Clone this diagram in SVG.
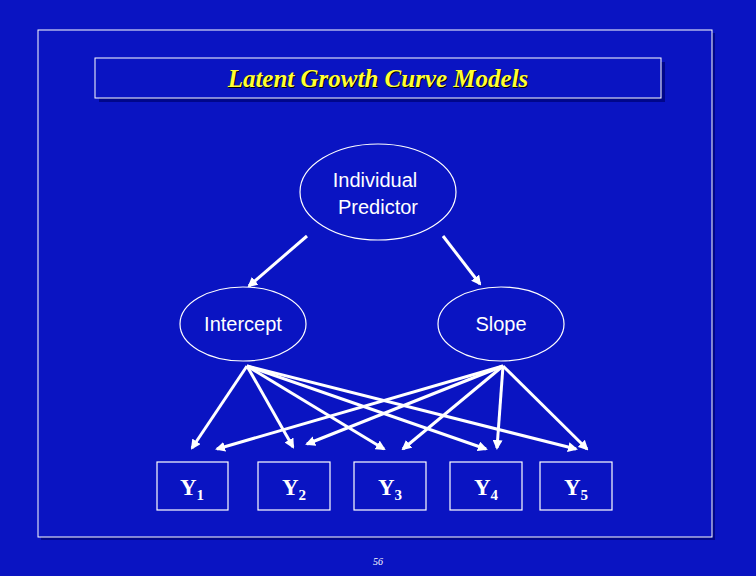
<svg xmlns="http://www.w3.org/2000/svg" width="756" height="576" viewBox="0 0 756 576">
<defs>
<marker id="ah" markerWidth="10" markerHeight="10" refX="8" refY="5" orient="auto" markerUnits="userSpaceOnUse"><path d="M0,0 L10,5 L0,10 Z" fill="#fff"/></marker>
<style>
.n{fill:#0A14C2;stroke:#fff;stroke-width:1.2}
.t{font-family:"Liberation Sans",sans-serif;font-size:20px;fill:#fff;text-anchor:middle}
.y{font-family:"Liberation Serif",serif;font-size:23px;font-weight:bold;fill:#fff;text-anchor:middle}
.c line{stroke:#fff;stroke-width:3;marker-end:url(#ah)}
</style>
</defs>
<rect width="756" height="576" fill="#0A14C2"/>
<rect x="41" y="33" width="674" height="507" fill="#00068a"/>
<rect x="38" y="30" width="674" height="507" fill="#0A14C2" stroke="#fff"/>
<g id="title">
<rect x="99" y="62" width="566" height="40" fill="#00068a"/>
<rect x="95" y="58" width="566" height="40" fill="#0A14C2" stroke="#fff"/>
<text x="379" y="88" font-family="Liberation Serif,serif" font-size="25" font-style="italic" font-weight="bold" fill="#000" text-anchor="middle">Latent Growth Curve Models</text>
<text x="378" y="87" font-family="Liberation Serif,serif" font-size="25" font-style="italic" font-weight="bold" fill="#FFFF33" text-anchor="middle">Latent Growth Curve Models</text>
</g>
<g id="predictor"><ellipse class="n" cx="378" cy="192" rx="78" ry="48"/><text class="t" x="375" y="187">Individual</text><text class="t" x="378" y="214">Predictor</text></g>
<g id="intercept"><ellipse class="n" cx="243" cy="324" rx="63" ry="37"/><text class="t" x="243" y="331">Intercept</text></g>
<g id="slope"><ellipse class="n" cx="501" cy="324" rx="63" ry="37"/><text class="t" x="501" y="331">Slope</text></g>
<g id="y1"><rect class="n" x="157" y="462" width="71" height="48"/><text class="y" x="192" y="495">Y<tspan font-size="15" dy="5">1</tspan></text></g>
<g id="y2"><rect class="n" x="258" y="462" width="72" height="48"/><text class="y" x="294" y="495">Y<tspan font-size="15" dy="5">2</tspan></text></g>
<g id="y3"><rect class="n" x="354" y="462" width="72" height="48"/><text class="y" x="390" y="495">Y<tspan font-size="15" dy="5">3</tspan></text></g>
<g id="y4"><rect class="n" x="450" y="462" width="72" height="48"/><text class="y" x="486" y="495">Y<tspan font-size="15" dy="5">4</tspan></text></g>
<g id="y5"><rect class="n" x="540" y="462" width="72" height="48"/><text class="y" x="576" y="495">Y<tspan font-size="15" dy="5">5</tspan></text></g>
<g class="c" id="connectors">
<line x1="307" y1="236" x2="249" y2="286"/>
<line x1="443" y1="236" x2="480" y2="284"/>
<line x1="247" y1="366" x2="192" y2="448"/>
<line x1="247" y1="366" x2="293" y2="447"/>
<line x1="247" y1="366" x2="384" y2="449"/>
<line x1="247" y1="366" x2="486" y2="449"/>
<line x1="247" y1="366" x2="576" y2="449"/>
<line x1="503" y1="366" x2="217" y2="449"/>
<line x1="503" y1="366" x2="307" y2="444"/>
<line x1="503" y1="366" x2="403" y2="449"/>
<line x1="503" y1="366" x2="497" y2="448"/>
<line x1="503" y1="366" x2="587" y2="449"/>
</g>
<text x="378" y="565" font-family="Liberation Serif,serif" font-size="10" font-style="italic" fill="#fff" text-anchor="middle">56</text>
</svg>
